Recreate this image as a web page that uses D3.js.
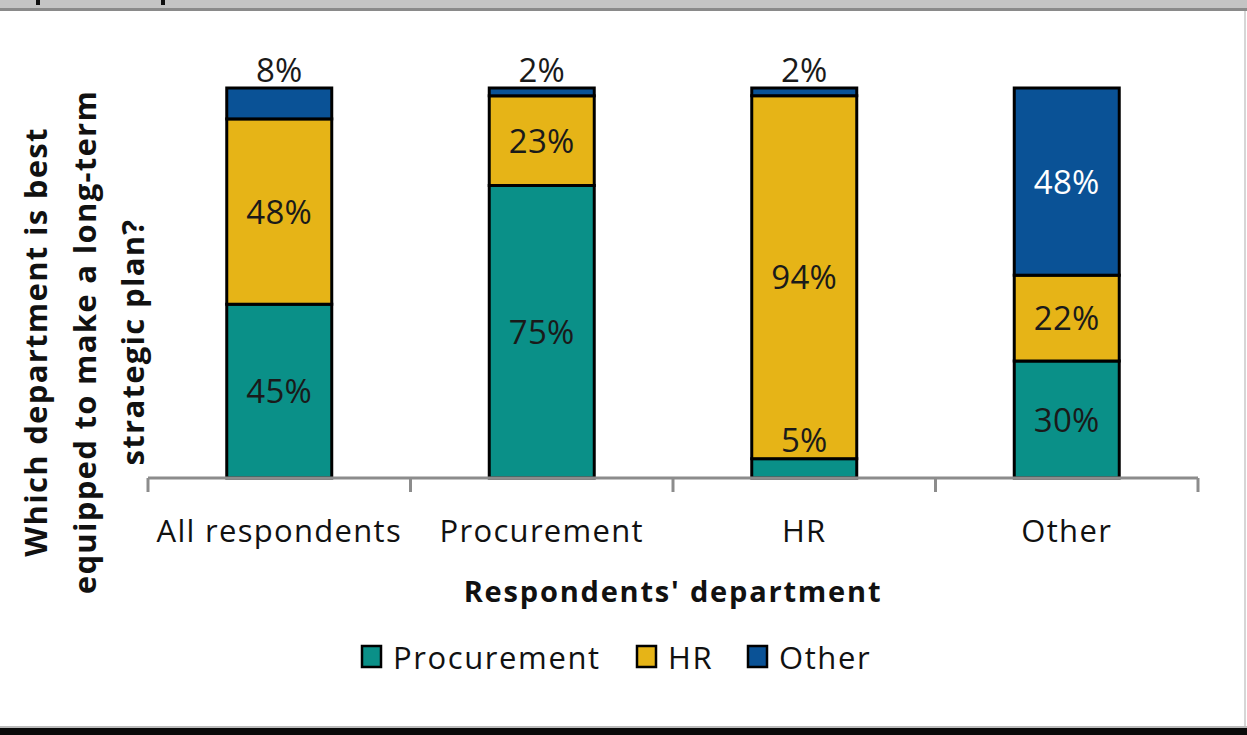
<!DOCTYPE html>
<html><head><meta charset="utf-8">
<script src="https://cdn.jsdelivr.net/npm/d3@7"></script>
<style>html,body{margin:0;padding:0;background:#fff;overflow:hidden}</style>
</head><body><svg id="c" width="1247" height="735"></svg>
<script>
const categories = ["All respondents", "Procurement", "HR", "Other"];
const seriesNames = ["Procurement", "HR", "Other"];
const procurementVals = [45, 75, 5, 30];
const hrVals = [48, 23, 94, 22];
const otherVals = [8, 2, 2, 48];
const colors = ["#0a9088", "#e6b417", "#0a5296"];

const rows = categories.map((c, i) => ({cat: c, Procurement: procurementVals[i], HR: hrVals[i], Other: otherVals[i]}));
const stack = d3.stack().keys(seriesNames).offset(d3.stackOffsetExpand);
const layers = stack(rows);

const svg = d3.select("#c");
const font = "'Open Sans', sans-serif";

// frame decorations
svg.append("rect").attr("x",0).attr("y",0).attr("width",1247).attr("height",8).attr("fill","#c4c4c4");
svg.append("rect").attr("x",0).attr("y",8).attr("width",1247).attr("height",3).attr("fill","#8a8a8a");
svg.append("rect").attr("x",36).attr("y",0).attr("width",4).attr("height",5).attr("fill","#111");
svg.append("rect").attr("x",161).attr("y",0).attr("width",4).attr("height",5).attr("fill","#111");
svg.append("rect").attr("x",1244).attr("y",11).attr("width",2).attr("height",716).attr("fill","#d6d6d6");
svg.append("rect").attr("x",0).attr("y",726).attr("width",1247).attr("height",2).attr("fill","#bbb");
svg.append("rect").attr("x",0).attr("y",728).attr("width",1247).attr("height",7).attr("fill","#0a0a0a");

const x = d3.scaleBand().domain(categories).range([148, 1198]).paddingInner(0.6).paddingOuter(0.3);
const y = d3.scaleLinear().domain([0, 1]).range([478, 88]);

// bars
const g = svg.append("g");
layers.forEach((layer, li) => {
  g.selectAll(null).data(layer).enter().append("rect")
    .attr("x", d => x(d.data.cat))
    .attr("y", d => y(d[1]))
    .attr("width", x.bandwidth())
    .attr("height", d => y(d[0]) - y(d[1]))
    .attr("fill", colors[li])
    .attr("stroke", "#000").attr("stroke-width", 3);
});

// axis
const axisG = svg.append("g").attr("transform", "translate(0,478)");
const edges = categories.map(c => x(c) - x.step()*x.paddingOuter()).concat([1198]);
axisG.append("line").attr("x1",148).attr("x2",1198).attr("y1",0).attr("y2",0).attr("stroke","#8c8c8c").attr("stroke-width",3);
axisG.selectAll(null).data(edges).enter().append("line")
  .attr("x1", d=>d).attr("x2", d=>d).attr("y1",0).attr("y2",14).attr("stroke","#8c8c8c").attr("stroke-width",3);
axisG.selectAll(null).data(categories).enter().append("text")
  .attr("x", d => x(d) + x.bandwidth()/2).attr("y", 64)
  .attr("text-anchor","middle").attr("font-family",font).attr("font-size",31).attr("letter-spacing",1.3).attr("fill","#111")
  .text(d => d);

// labels
layers.forEach((layer, li) => {
  g.selectAll(null).data(layer).enter().append("text")
    .attr("x", d => x(d.data.cat) + x.bandwidth()/2)
    .attr("y", d => {
      const v = d.data[layer.key];
      if (li === 2 && v < 10) return y(1) - 6;
      if (li === 0 && v < 10) return y(d[1]) - 7;
      return (y(d[0]) + y(d[1]))/2 + 12;
    })
    .attr("text-anchor","middle").attr("font-family",font).attr("font-size",33).attr("letter-spacing",0.3)
    .attr("fill", d => (li === 2 && d.data[layer.key] >= 10) ? "#ffffff" : "#1a1a1a")
    .text(d => d.data[layer.key] + "%");
});

// axis titles
svg.append("text").attr("x", 673).attr("y", 602).attr("text-anchor","middle")
  .attr("font-family",font).attr("font-weight","bold").attr("font-size",29).attr("letter-spacing",1.8).attr("fill","#111")
  .text("Respondents' department");
const yt = svg.append("text").attr("transform","translate(0,342) rotate(-90)")
  .attr("text-anchor","middle").attr("font-family",font).attr("font-weight","bold").attr("font-size",31).attr("letter-spacing",1.3).attr("fill","#111");
["Which department is best","equipped to make a long-term","strategic plan?"].forEach((t,i)=>{
  yt.append("tspan").attr("x",0).attr("y",[47,96,144][i]).text(t);
});

// legend
const legX = [362, 637, 748];
const leg = svg.append("g");
seriesNames.forEach((s, i) => {
  leg.append("rect").attr("x", legX[i]).attr("y", 646).attr("width", 19).attr("height", 21)
    .attr("fill", colors[i]).attr("stroke","#000").attr("stroke-width",2.5);
  leg.append("text").attr("x", legX[i] + 31).attr("y", 669)
    .attr("font-family",font).attr("font-size",31).attr("letter-spacing",1.6).attr("fill","#111").text(s);
});
</script></body></html>
